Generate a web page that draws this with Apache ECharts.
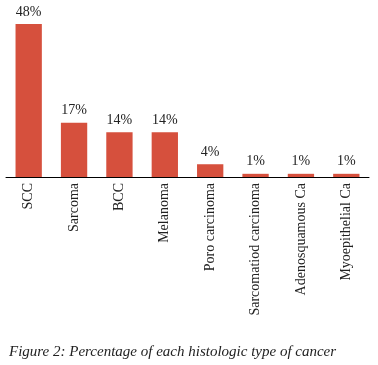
<!DOCTYPE html>
<html>
<head>
<meta charset="utf-8">
<script src="https://cdn.jsdelivr.net/npm/echarts@6/dist/echarts.min.js"></script>
<style>
  html, body { margin: 0; padding: 0; background: #fff; }
  #chart { width: 378px; height: 365px; }
</style>
</head>
<body>
<div id="chart"></div>
<script>
// histologic types and their share (%)
var categories = ['SCC', 'Sarcoma', 'BCC', 'Melanoma', 'Poro carcinoma',
  'Sarcomatiod carcinoma', 'Adenosquamous Ca', 'Myoepithelial Ca'];
var percentages = [48, 17, 14, 14, 4, 1, 1, 1];

var chart = echarts.init(document.getElementById('chart'));
chart.setOption({
  animation: false,
  textStyle: { fontFamily: 'Liberation Serif' },
  title: {
    text: 'Figure 2: Percentage of each histologic type of cancer',
    left: 4,
    top: 340,
    textStyle: {
      fontFamily: 'Liberation Serif',
      fontStyle: 'italic',
      fontWeight: 'normal',
      fontSize: 15,
      color: '#222'
    }
  },
  grid: { left: 6, right: 9, top: 17.5, bottom: 188, containLabel: false },
  xAxis: {
    type: 'category',
    data: categories,
    axisLine: { lineStyle: { color: '#000', width: 1 } },
    axisTick: { show: false },
    axisLabel: {
      rotate: 90,
      interval: 0,
      margin: 6,
      fontSize: 14,
      color: '#222',
      fontFamily: 'Liberation Serif'
    }
  },
  yAxis: {
    type: 'value',
    min: 0,
    max: 50,
    show: false
  },
  series: [{
    type: 'bar',
    data: percentages,
    barCategoryGap: '42%',
    itemStyle: { color: '#d6503d' },
    label: {
      show: true,
      position: 'top',
      distance: 5,
      formatter: '{c}%',
      fontSize: 14,
      color: '#222',
      fontFamily: 'Liberation Serif'
    }
  }]
});
</script>
</body>
</html>
